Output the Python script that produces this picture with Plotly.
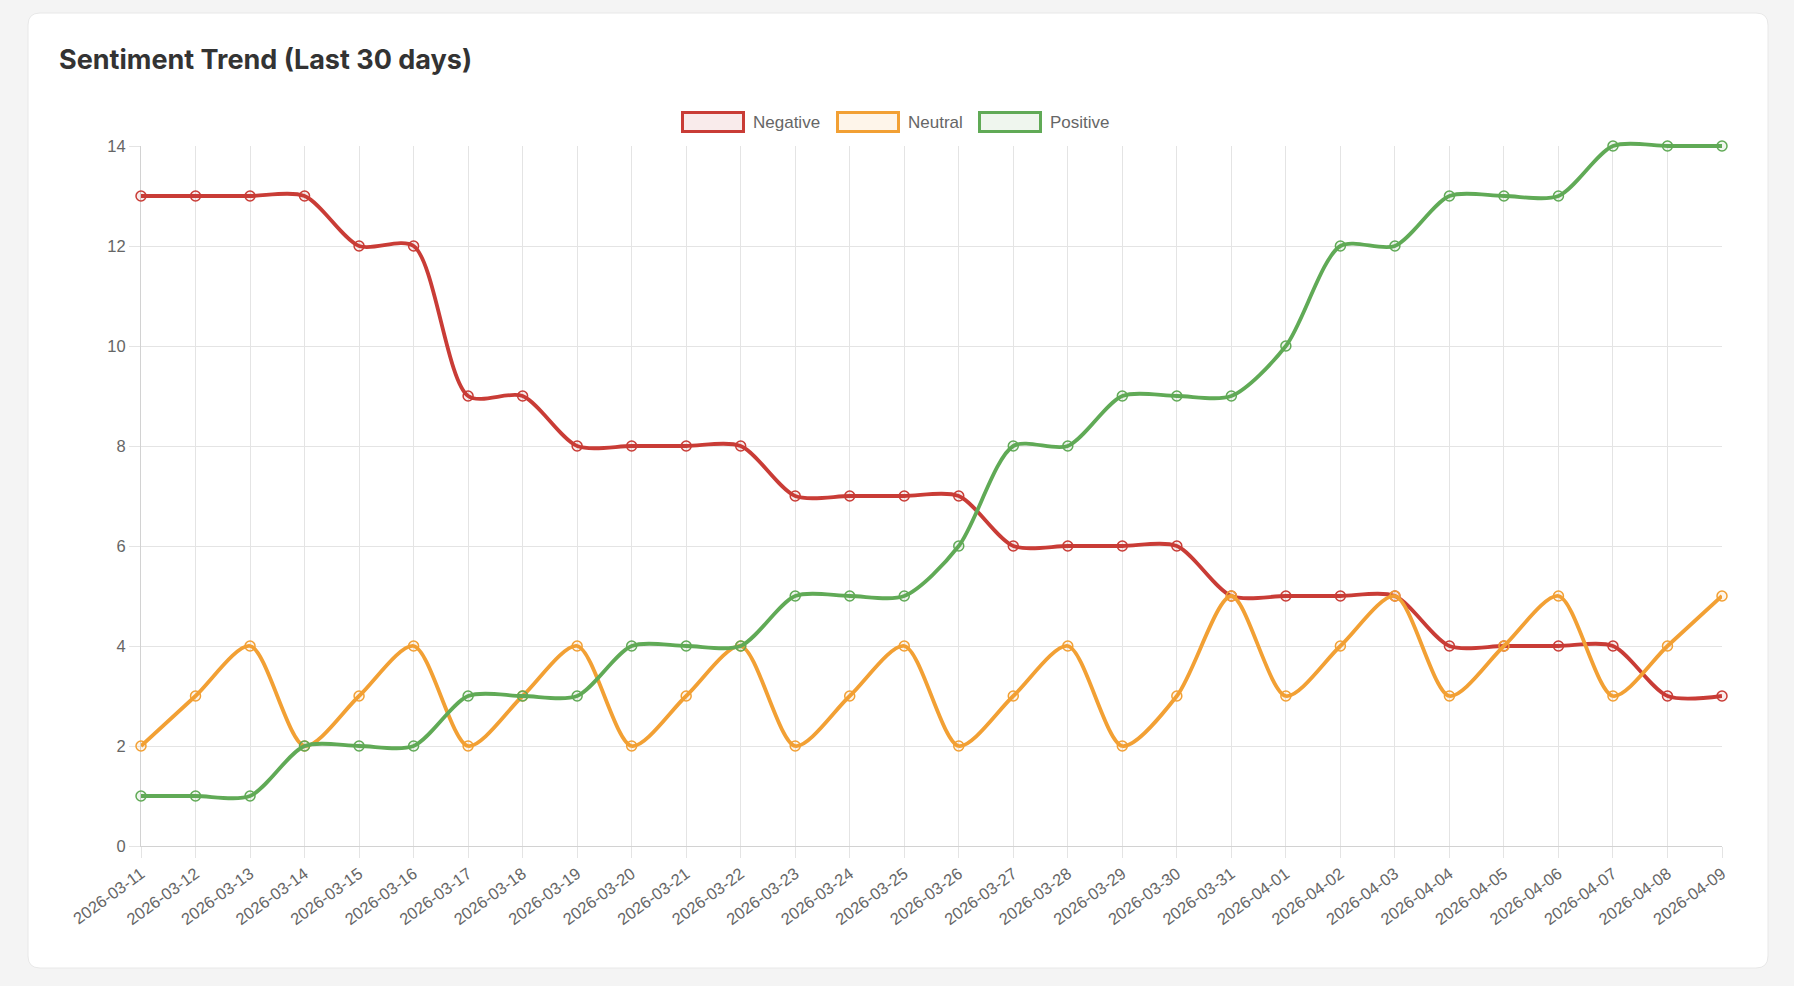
import plotly.graph_objects as go

# data
dates = ['2026-03-11', '2026-03-12', '2026-03-13', '2026-03-14', '2026-03-15',
         '2026-03-16', '2026-03-17', '2026-03-18', '2026-03-19', '2026-03-20',
         '2026-03-21', '2026-03-22', '2026-03-23', '2026-03-24', '2026-03-25',
         '2026-03-26', '2026-03-27', '2026-03-28', '2026-03-29', '2026-03-30',
         '2026-03-31', '2026-04-01', '2026-04-02', '2026-04-03', '2026-04-04',
         '2026-04-05', '2026-04-06', '2026-04-07', '2026-04-08', '2026-04-09']
negative = [13, 13, 13, 13, 12, 12, 9, 9, 8, 8, 8, 8, 7, 7, 7,
            7, 6, 6, 6, 6, 5, 5, 5, 5, 4, 4, 4, 4, 3, 3]
neutral = [2, 3, 4, 2, 3, 4, 2, 3, 4, 2, 3, 4, 2, 3, 4,
           2, 3, 4, 2, 3, 5, 3, 4, 5, 3, 4, 5, 3, 4, 5]
positive = [1, 1, 1, 2, 2, 2, 3, 3, 3, 4, 4, 4, 5, 5, 5,
            6, 8, 8, 9, 9, 9, 10, 12, 12, 13, 13, 13, 14, 14, 14]
y_ticks = [0, 2, 4, 6, 8, 10, 12, 14]

series = [
    ('Negative', negative, 'rgb(201,60,54)', 'rgba(201,60,54,0.1)'),
    ('Neutral', neutral, 'rgb(242,160,52)', 'rgba(242,160,52,0.1)'),
    ('Positive', positive, 'rgb(96,170,86)', 'rgba(96,170,86,0.1)'),
]

W, H = 1794, 986
L, R, B = 141, 72, 140
T = 146 - 20          # extra 20px on top so lines at 14 are not cut
pw, ph = W - L - R, H - T - B
grid_top = (ph - 20) / ph  # domain of the visible grid axes
y_max = 14 / grid_top      # data axis spans the full area


def px(x):  # page pixel -> paper x
    return (x - L) / pw


def py(y):  # page pixel -> paper y
    return (H - B - y) / ph


fig = go.Figure()
for name, vals, col, fill in series:
    fig.add_trace(go.Scatter(
        x=dates, y=vals, name=name, mode='lines+markers', cliponaxis=False,
        xaxis='x2', yaxis='y2',
        line=dict(color=col, width=3.8, shape='spline', smoothing=0.8),
        marker=dict(size=10, color=fill, line=dict(color=col, width=1.5)),
    ))
# invisible trace so the grid axes have categories
fig.add_trace(go.Scatter(x=dates, y=[0] * len(dates), mode='markers',
                         marker=dict(opacity=0), hoverinfo='skip'))

# card behind the chart, rounded corners
x0, x1, y0, y1, r = 28, 1768, 13, 968, 12
path = (f"M {px(x0 + r)},{py(y0)} L {px(x1 - r)},{py(y0)} "
        f"Q {px(x1)},{py(y0)} {px(x1)},{py(y0 + r)} L {px(x1)},{py(y1 - r)} "
        f"Q {px(x1)},{py(y1)} {px(x1 - r)},{py(y1)} L {px(x0 + r)},{py(y1)} "
        f"Q {px(x0)},{py(y1)} {px(x0)},{py(y1 - r)} L {px(x0)},{py(y0 + r)} "
        f"Q {px(x0)},{py(y0)} {px(x0 + r)},{py(y0)} Z")
shapes = [dict(type='path', xref='paper', yref='paper', path=path,
               fillcolor='white', line=dict(color='#e8e8e8', width=1), layer='below')]

# legend boxes like the original
annotations = []
box_x = [681, 836, 978]
for (name, vals, col, fill), bx in zip(series, box_x):
    shapes.append(dict(type='rect', xref='paper', yref='paper',
                       x0=px(bx + 1.5), x1=px(bx + 62.5), y0=py(112.5), y1=py(131.5),
                       fillcolor=fill, line=dict(color=col, width=3)))
    annotations.append(dict(xref='paper', yref='paper', x=px(bx + 70), y=py(122),
                            text=name, showarrow=False, xanchor='left', yanchor='middle',
                            font=dict(size=17, color='#666666')))

annotations.append(dict(xref='paper', yref='paper', x=px(57), y=py(59),
                        text='<b>Sentiment Trend (Last 30 days)</b>', showarrow=False,
                        xanchor='left', yanchor='middle',
                        font=dict(family='Inter, Liberation Sans, sans-serif',
                                  size=27, color='#333333')))

axis_style = dict(showgrid=True, gridcolor='#e4e4e4', gridwidth=1,
                  showline=True, linecolor='#d2d2d2', linewidth=1,
                  ticks='outside', ticklen=11, tickcolor='#e4e4e4',
                  tickfont=dict(size=16.5, color='#666666'), zeroline=False)

fig.update_layout(
    width=W, height=H,
    margin=dict(l=L, r=R, t=T, b=B),
    paper_bgcolor='#f4f4f4', plot_bgcolor='rgba(0,0,0,0)',
    font=dict(family='Liberation Sans, Arial, sans-serif', color='#666666'),
    showlegend=False,
    shapes=shapes, annotations=annotations,
    xaxis=dict(type='category', range=[0, len(dates) - 1], tickangle=-36,
               anchor='y', **axis_style),
    yaxis=dict(range=[0, 14], tickvals=y_ticks, domain=[0, grid_top],
               anchor='x', **axis_style),
    xaxis2=dict(type='category', range=[0, len(dates) - 1], visible=False,
                anchor='y2'),
    yaxis2=dict(range=[0, y_max], visible=False, domain=[0, 1], anchor='x2'),
)

fig.write_html("out.html",
               config={'displayModeBar': False},
               post_script="document.body.style.margin='0';"
                           "document.body.style.overflow='hidden';"
                           "document.body.style.background='#f4f4f4';")
